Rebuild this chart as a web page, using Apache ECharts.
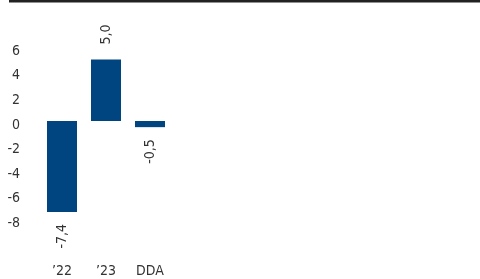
<!DOCTYPE html>
<html>
<head>
<meta charset="utf-8">
<script src="https://cdn.jsdelivr.net/npm/echarts@6/dist/echarts.min.js"></script>
<style>
html, body { margin: 0; padding: 0; background: #fff; }
#chartDiv { width: 480px; height: 279px; }
</style>
</head>
<body>
<div id="chartDiv"></div>
<script>
// 数据
let categories = ['\u201922', '\u201923', 'DDA'];
let values = [-7.4, 5.0, -0.5];
let valueLabels = ['-7,4', '5,0', '-0,5'];

let myChart = echarts.init(document.getElementById('chartDiv'));
let fontFamily = '"DejaVu Sans Condensed", sans-serif';

let barData = values.map(function (v, i) {
	let positive = v >= 0;
	return {
		value: v,
		label: {
			position: positive ? 'top' : 'bottom',
			align: positive ? 'left' : 'right',
			verticalAlign: 'middle',
			distance: positive ? 15 : 12,
			formatter: valueLabels[i]
		}
	};
});

let option = {
	backgroundColor: '#fff',
	animation: false,
	grid: {
		left: 40,
		width: 132,
		top: 47.2,
		bottom: 59.6
	},
	graphic: [{
		type: 'rect',
		shape: {x: 9, y: 0, width: 471, height: 2.5},
		style: {fill: '#222'}
	}],
	xAxis: {
		type: 'category',
		data: categories,
		axisLine: {show: false},
		axisTick: {show: false},
		axisLabel: {
			margin: 45,
			color: '#333',
			fontSize: 14,
			fontFamily: fontFamily
		}
	},
	yAxis: {
		type: 'value',
		min: -8,
		max: 6,
		interval: 2,
		axisLine: {show: false},
		axisTick: {show: false},
		splitLine: {show: false},
		axisLabel: {
			margin: 20,
			formatter: '{a|{value}}',
			rich: {
				a: {
					padding: [8, 0, 0, 0],
					color: '#333',
					fontSize: 14,
					fontFamily: fontFamily
				}
			}
		}
	},
	series: [{
		type: 'bar',
		data: barData,
		barWidth: 30,
		itemStyle: {color: '#00457f'},
		label: {
			show: true,
			rotate: 90,
			color: '#333',
			fontSize: 14,
			fontFamily: fontFamily
		}
	}]
};
myChart.setOption(option);
</script>
</body>
</html>
